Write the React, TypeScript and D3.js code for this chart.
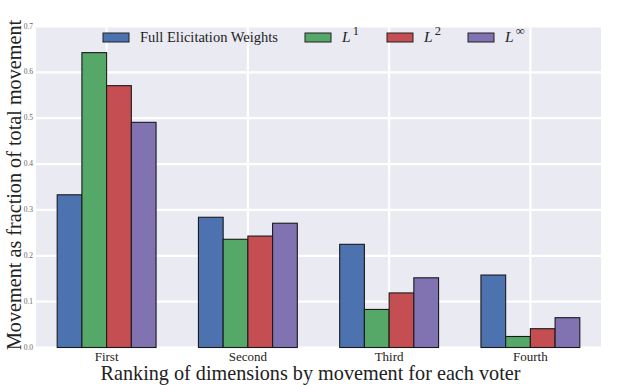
import { useMemo } from 'react'
import * as d3 from 'd3'

const W = 623
const H = 385
const LEFT = 36
const RIGHT = 601
const TOP = 26.5
const BOTTOM = 347.5

export const categories = ['First', 'Second', 'Third', 'Fourth']
export const seriesNames = ['Full Elicitation Weights', 'L1', 'L2', 'Linf']
export const fullWeights = [0.333, 0.284, 0.225, 0.158]
export const l1Values = [0.643, 0.236, 0.083, 0.024]
export const l2Values = [0.571, 0.243, 0.119, 0.041]
export const linfValues = [0.491, 0.271, 0.152, 0.065]
export const yTicks = [0, 0.1, 0.2, 0.3, 0.4, 0.5, 0.6, 0.7]

const COLORS = ['#4C72B0', '#55A868', '#C44E52', '#8172B2']
const FONT = '"Liberation Serif", "DejaVu Serif", serif'

const Legend = () => {
  const items = [
    { x: 103, label: <tspan>Full Elicitation Weights</tspan> },
    { x: 305, sup: '1' },
    { x: 387, sup: '2' },
    { x: 468, sup: '∞' },
  ]
  return (
    <g>
      {items.map((it, i) => (
        <g key={i}>
          <rect
            x={it.x}
            y={33}
            width={26}
            height={9}
            fill={COLORS[i]}
            stroke="#222"
            strokeWidth={1}
          />
          <text
            x={it.x + 37}
            y={42}
            fontFamily={FONT}
            fontSize={14.5}
            fill="#222"
          >
            {it.label ? (
              it.label
            ) : (
              <>
                <tspan fontStyle="italic" fontSize={15.5}>
                  L
                </tspan>
                <tspan fontSize={12.5} dy={-7} dx={2}>
                  {it.sup}
                </tspan>
              </>
            )}
          </text>
        </g>
      ))}
    </g>
  )
}

export default function App() {
  const series = [fullWeights, l1Values, l2Values, linfValues]

  const x = useMemo(
    () =>
      d3
        .scaleBand<string>()
        .domain(categories)
        .range([LEFT, RIGHT])
        .paddingInner(0.3)
        .paddingOuter(0.15),
    []
  )
  const xSub = useMemo(
    () =>
      d3
        .scaleBand<string>()
        .domain(seriesNames)
        .range([0, x.bandwidth()]),
    [x]
  )
  const y = useMemo(
    () => d3.scaleLinear().domain([0, 0.7]).range([BOTTOM, TOP]),
    []
  )

  return (
    <svg
      width={W}
      height={H}
      style={{ position: 'absolute', left: 0, top: 0, background: '#fff' }}
    >
      <rect
        x={LEFT}
        y={TOP}
        width={RIGHT - LEFT}
        height={BOTTOM - TOP}
        fill="#EAEAF2"
      />
      {/* grid */}
      {yTicks.map((t) => (
        <line
          key={t}
          x1={LEFT}
          x2={RIGHT}
          y1={y(t)}
          y2={y(t)}
          stroke="#fff"
          strokeWidth={2.2}
        />
      ))}
      {categories.map((c) => {
        const cx = (x(c) ?? 0) + x.bandwidth() / 2
        return (
          <line
            key={c}
            x1={cx}
            x2={cx}
            y1={TOP}
            y2={BOTTOM}
            stroke="#fff"
            strokeWidth={2.2}
          />
        )
      })}
      {/* bars */}
      {series.map((vals, si) =>
        categories.map((c, ci) => {
          const bx = (x(c) ?? 0) + (xSub(seriesNames[si]) ?? 0)
          return (
            <rect
              key={`${si}-${ci}`}
              x={bx}
              y={y(vals[ci])}
              width={xSub.bandwidth()}
              height={y(0) - y(vals[ci])}
              fill={COLORS[si]}
              stroke="#1a1a1a"
              strokeWidth={1.1}
            />
          )
        })
      )}
      {/* y tick labels */}
      {yTicks.map((t) => (
        <text
          key={t}
          x={LEFT - 3}
          y={y(t) + 2}
          textAnchor="end"
          fontFamily={FONT}
          fontSize={7.5}
          fill="#666"
        >
          {d3.format('.1f')(t)}
        </text>
      ))}
      {/* x tick labels */}
      {categories.map((c) => (
        <text
          key={c}
          x={(x(c) ?? 0) + x.bandwidth() / 2}
          y={360.5}
          textAnchor="middle"
          fontFamily={FONT}
          fontSize={13}
          fill="#222"
        >
          {c}
        </text>
      ))}
      <text
        x={(LEFT + RIGHT) / 2 - 8}
        y={380}
        textAnchor="middle"
        fontFamily={FONT}
        fontSize={20.2}
        fill="#222"
      >
        Ranking of dimensions by movement for each voter
      </text>
      <text
        transform={`translate(20.5, 185) rotate(-90)`}
        textAnchor="middle"
        fontFamily={FONT}
        fontSize={20.2}
        fill="#222"
      >
        Movement as fraction of total movement
      </text>
      <Legend />
    </svg>
  )
}
